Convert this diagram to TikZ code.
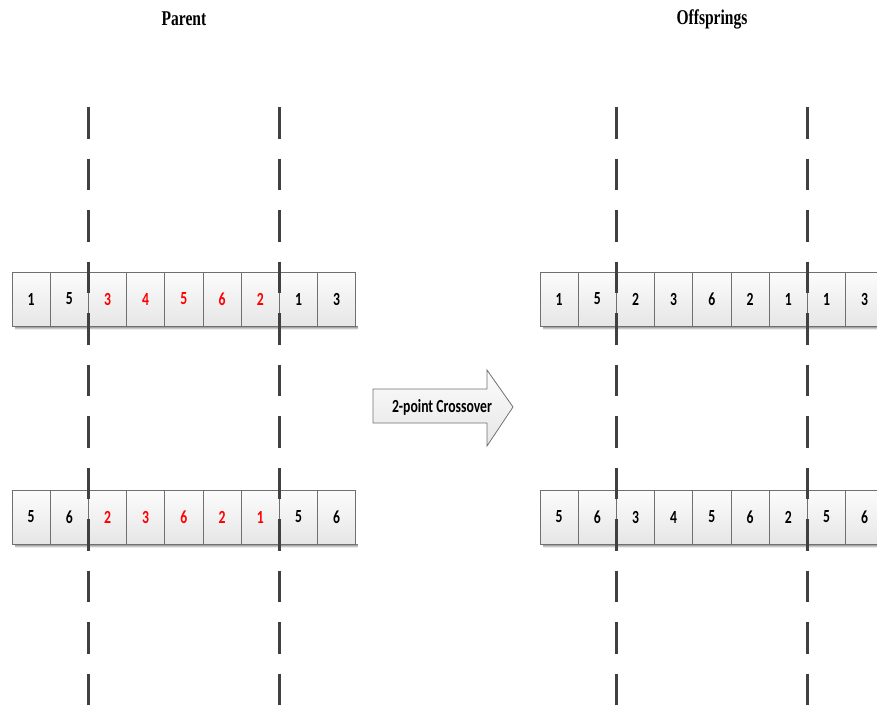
\documentclass[tikz,border=0pt]{standalone}
\usepackage{fontspec}
\setmainfont{Liberation Serif}
\setsansfont{Carlito}
\definecolor{cellline}{RGB}{112,112,112}
\definecolor{celltop}{RGB}{252,252,252}
\definecolor{cellbot}{RGB}{230,230,230}
\definecolor{cutline}{RGB}{64,64,64}
\definecolor{shade}{RGB}{228,228,228}
\newcommand{\narrow}[1]{\scalebox{0.74}[1]{#1}}
\begin{document}
\begin{tikzpicture}[x=1pt,y=-1pt,
  cell/.style={draw=cellline, line width=0.8pt, top color=celltop, bottom color=cellbot,
    minimum width=38.2pt, minimum height=54pt, inner sep=0pt, outer sep=0pt,
    font=\sffamily\bfseries\fontsize{18.5}{18.5}\selectfont},
  gene/.style={text=black},
  swap/.style={text=red},
  cutline/.style={draw=cutline, line width=2.6pt, dash pattern=on 31.5pt off 20pt},
  title/.style={font=\rmfamily\bfseries\fontsize{21}{21}\selectfont},
  flow/.style={draw=cellline, line width=0.8pt, top color=celltop, bottom color=cellbot}]
\useasboundingbox (0,0) rectangle (877,709);
\begin{scope}
\clip (0,0) rectangle (877,709);

% titles
\node[title] (tparent) at (184,19) {\narrow{Parent}};
\node[title] (toff) at (712,19) {\narrow{Offsprings}};

% chromosome rows: shadow strip, then cells
\newcommand{\chrom}[4]{%
  \fill[shade] (#1+3,#2+27) rectangle (#1+9*38.2+2,#2+30.5);
  \foreach \v/\s [count=\i] in {#4} {
    \node[cell,\s] (#3\i) at (#1+\i*38.2-19.1,#2) {\narrow{\v}};
  }}
\chrom{12}{299}{pa}{1/gene,5/gene,3/swap,4/swap,5/swap,6/swap,2/swap,1/gene,3/gene}
\chrom{12}{517}{pb}{5/gene,6/gene,2/swap,3/swap,6/swap,2/swap,1/swap,5/gene,6/gene}
\chrom{540}{299}{oa}{1/gene,5/gene,2/gene,3/gene,6/gene,2/gene,1/gene,1/gene,3/gene}
\chrom{540}{517}{ob}{5/gene,6/gene,3/gene,4/gene,5/gene,6/gene,2/gene,5/gene,6/gene}

% crossover cut points
\foreach \n/\x in {l1/88.4, l2/279.4, r1/616.4, r2/807.4} {
  \coordinate (\n top) at (\x,107);
  \coordinate (\n bot) at (\x,705);
  \draw[cutline] (\n top) -- (\n bot);
}

% operator arrow
\draw[flow] (373,389) -- (487,389) -- (487,370) -- (513,407) -- (487,446)
  -- (487,423) -- (373,423) -- cycle;
\node[font=\sffamily\bfseries\fontsize{18.5}{18.5}\selectfont] (op) at (442,407)
  {\narrow{2-point Crossover}};
\end{scope}
\end{tikzpicture}
\end{document}
